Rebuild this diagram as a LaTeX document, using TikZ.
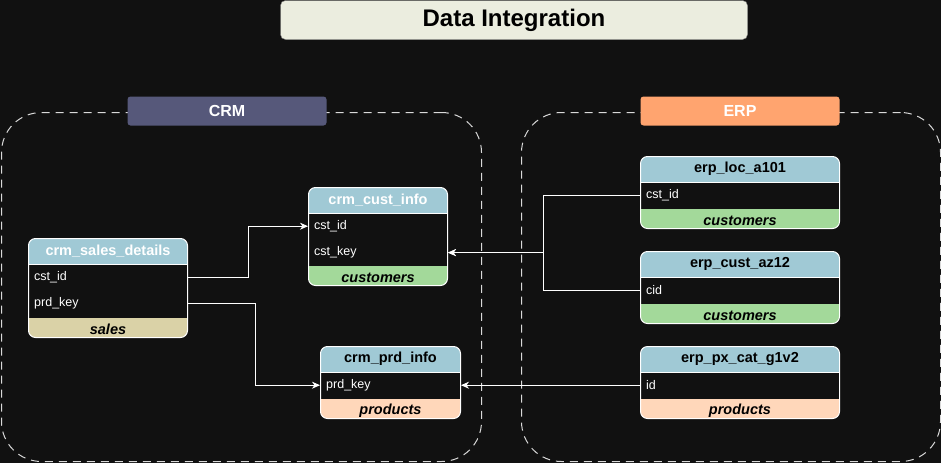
\documentclass[tikz,border=0pt]{standalone}
\usepackage{fontspec}
\setmainfont{Liberation Sans}
\usetikzlibrary{arrows.meta,positioning}

\definecolor{bg}{HTML}{111111}
\definecolor{hdr}{HTML}{A0C9D5}
\definecolor{crmcol}{HTML}{56587A}
\definecolor{erpcol}{HTML}{FFA46F}
\definecolor{titlecol}{HTML}{EBEDDF}
\definecolor{sales}{HTML}{DAD2A7}
\definecolor{cust}{HTML}{A3D99A}
\definecolor{prod}{HTML}{FFD7BA}

\begin{document}
\begin{tikzpicture}[x=1pt,y=-1pt,>={Stealth[length=8pt,width=7pt,inset=2.5pt]},
    box/.style={draw=white!85!black,line width=1pt,dash pattern=on 8pt off 6pt,rounded corners=40pt,anchor=north west},
    grouptag/.style={fill=#1,rounded corners=3pt,minimum width=199pt,minimum height=29pt,text=white,font=\bfseries\fontsize{16}{18}\selectfont},
    tbl/.style={draw=white,fill=bg,line width=1pt,rounded corners=7pt,anchor=north west,
      path picture={
        \fill[hdr,sharp corners] (path picture bounding box.north west) rectangle ([yshift=-26pt]path picture bounding box.north east);
        \fill[#1,sharp corners] (path picture bounding box.south west) rectangle ([yshift=20pt]path picture bounding box.south east);
        \draw[white,sharp corners] ([yshift=-26pt]path picture bounding box.north west) -- ([yshift=-26pt]path picture bounding box.north east);}},
    hd/.style={minimum height=26pt,inner sep=0pt,text=#1,font=\bfseries\fontsize{14.5}{16}\selectfont},
    hd/.default=black,
    fld/.style={minimum height=26pt,inner ysep=0pt,inner xsep=6pt,text=white,font=\fontsize{12.5}{14}\selectfont},
    ft/.style={minimum height=20pt,inner sep=0pt,yshift=-2pt,font=\bfseries\itshape\fontsize{14.5}{16}\selectfont},
    link/.style={draw=white,line width=1pt,->}]
    \useasboundingbox (0,0) rectangle (941,463);
    \fill[bg] (0,0) rectangle (941,463);

    \node[draw=gray,fill=titlecol,rounded corners=5pt,minimum width=467pt,minimum height=39pt,
          font=\bfseries\fontsize{24}{28}\selectfont] (title) at (514,20) {Data Integration};

    % groups
    \node[box,minimum width=480pt,minimum height=349pt] (crm) at (1,112) {};
    \node[box,minimum width=419pt,minimum height=349pt] (erp) at (521,112) {};
    \node[grouptag=crmcol] (crml) at (227,111) {CRM};
    \node[grouptag=erpcol] (erpl) at (740,111) {ERP};

    % crm tables
    \node[tbl=sales,minimum width=159pt,minimum height=99pt] (sd) at (28,238) {};
    \node[hd=white,below=0pt of sd.north] (sdh) {crm\_sales\_details};
    \node[fld,below right=26pt and 0pt of sd.north west] (sd1) {cst\_id};
    \node[fld,below right=0pt and 0pt of sd1.south west] (sd2) {prd\_key};
    \node[ft,above=0pt of sd.south] (sdf) {sales};

    \node[tbl=cust,minimum width=139pt,minimum height=98pt] (ci) at (308,187) {};
    \node[hd=white,below=0pt of ci.north] (cih) {crm\_cust\_info};
    \node[fld,below right=26pt and 0pt of ci.north west] (ci1) {cst\_id};
    \node[fld,below right=0pt and 0pt of ci1.south west] (ci2) {cst\_key};
    \node[ft,above=0pt of ci.south] (cif) {customers};

    \node[tbl=prod,minimum width=140pt,minimum height=72pt] (pi) at (320,346) {};
    \node[hd,below=0pt of pi.north] (pih) {crm\_prd\_info};
    \node[fld,below right=26pt and 0pt of pi.north west] (pi1) {prd\_key};
    \node[ft,above=0pt of pi.south] (pif) {products};

    % erp tables
    \node[tbl=cust,minimum width=199pt,minimum height=72pt] (la) at (640,156) {};
    \node[hd,below=0pt of la.north] (lah) {erp\_loc\_a101};
    \node[fld,below right=26pt and 0pt of la.north west] (la1) {cst\_id};
    \node[ft,above=0pt of la.south] (laf) {customers};

    \node[tbl=cust,minimum width=199pt,minimum height=72pt] (ca) at (640,251) {};
    \node[hd,below=0pt of ca.north] (cah) {erp\_cust\_az12};
    \node[fld,below right=26pt and 0pt of ca.north west] (ca1) {cid};
    \node[ft,above=0pt of ca.south] (caf) {customers};

    \node[tbl=prod,minimum width=199pt,minimum height=72pt] (pc) at (640,346) {};
    \node[hd,below=0pt of pc.north] (pch) {erp\_px\_cat\_g1v2};
    \node[fld,below right=26pt and 0pt of pc.north west] (pc1) {id};
    \node[ft,above=0pt of pc.south] (pcf) {products};

    % links
    \draw[link] (sd1 -| sd.east) -- ++(60,0) |- (ci1 -| ci.west);
    \draw[link] (sd2 -| sd.east) -- ++(67,0) |- (pi1 -| pi.west);
    \draw[link] (la1 -| la.west) -- ++(-97,0) |- (ci2 -| ci.east);
    \draw[link] (ca1 -| ca.west) -- ++(-97,0) |- (ci2 -| ci.east);
    \draw[link] (pc1 -| pc.west) -- (pi1 -| pi.east);
\end{tikzpicture}
\end{document}
